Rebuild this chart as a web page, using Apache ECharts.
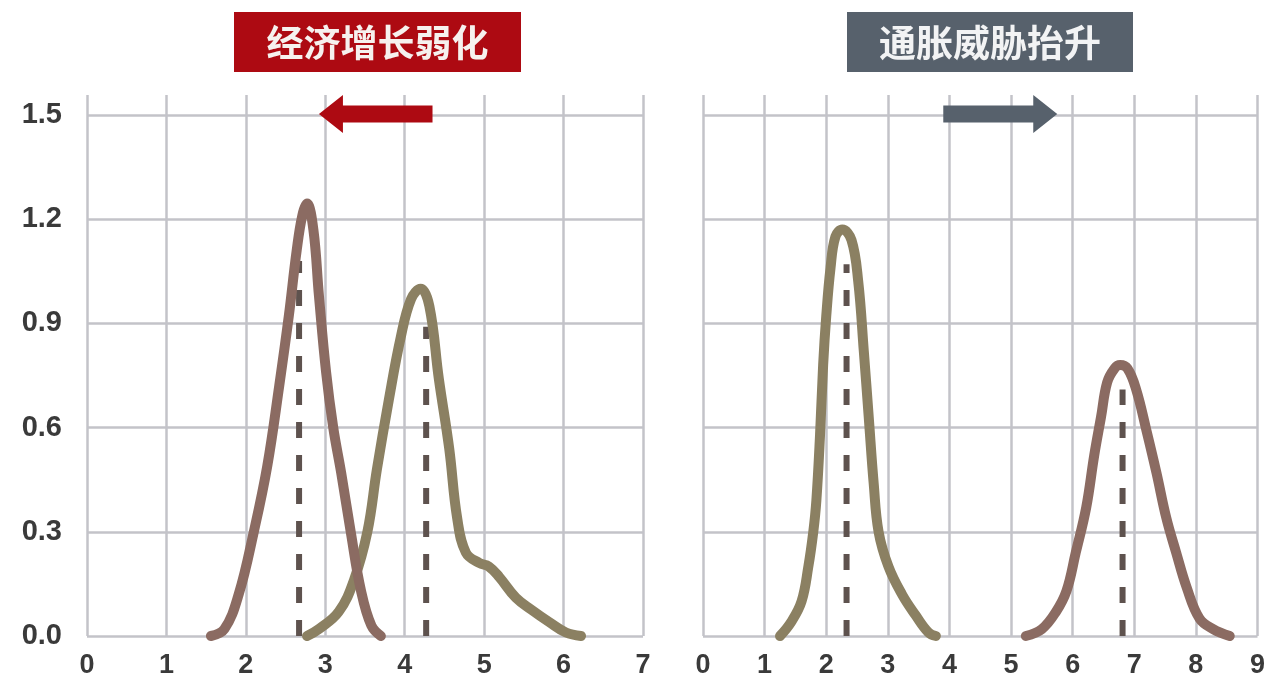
<!DOCTYPE html>
<html>
<head>
<meta charset="utf-8">
<style>
  html, body { margin: 0; padding: 0; background: #ffffff; }
  #chart { width: 1268px; height: 682px; }
</style>
<script src="https://cdn.jsdelivr.net/npm/echarts@6/dist/echarts.min.js"></script>
</head>
<body>
<div id="chart"></div>
<script>
// Panel headings
const leftTitle = '经济增长弱化';
const rightTitle = '通胀威胁抬升';

// Axis ranges and ticks
const leftXMax = 7;
const rightXMax = 9;
const yMax = 1.5;
const yStep = 0.3;

// Left panel: current distribution (brown) and earlier distribution (olive)
const leftBrown = [
  [1.56, 0.0], [1.73, 0.02], [1.91, 0.12], [2.10, 0.30], [2.27, 0.49],
  [2.42, 0.72], [2.54, 0.92], [2.64, 1.11], [2.71, 1.21], [2.77, 1.245],
  [2.85, 1.17], [2.92, 0.98], [3.01, 0.76], [3.10, 0.60], [3.20, 0.47],
  [3.32, 0.30], [3.45, 0.13], [3.58, 0.03], [3.70, 0.0]
];
const leftOlive = [
  [2.77, 0.0], [2.92, 0.02], [3.17, 0.07], [3.36, 0.16], [3.53, 0.30],
  [3.65, 0.48], [3.80, 0.68], [3.95, 0.86], [4.08, 0.97], [4.20, 1.0],
  [4.31, 0.95], [4.43, 0.74], [4.56, 0.54], [4.66, 0.34], [4.77, 0.24],
  [4.94, 0.21], [5.06, 0.20], [5.19, 0.17], [5.40, 0.11], [5.60, 0.075],
  [5.82, 0.04], [6.03, 0.01], [6.22, 0.0]
];

// Right panel: olive (lower) and brown (higher) distributions
const rightOlive = [
  [1.25, 0.0], [1.43, 0.04], [1.60, 0.10], [1.71, 0.20], [1.79, 0.30],
  [1.84, 0.39], [1.90, 0.58], [1.95, 0.78], [2.00, 0.92], [2.07, 1.06],
  [2.15, 1.15], [2.26, 1.17], [2.41, 1.14], [2.52, 1.02], [2.61, 0.82],
  [2.69, 0.63], [2.77, 0.44], [2.85, 0.30], [3.01, 0.20], [3.23, 0.12],
  [3.45, 0.06], [3.66, 0.01], [3.78, 0.0]
];
const rightBrown = [
  [5.24, 0.0], [5.50, 0.02], [5.73, 0.07], [5.90, 0.13], [6.05, 0.24],
  [6.22, 0.37], [6.35, 0.52], [6.46, 0.63], [6.56, 0.73], [6.68, 0.77],
  [6.77, 0.78], [6.89, 0.77], [7.03, 0.71], [7.20, 0.59], [7.36, 0.47],
  [7.52, 0.34], [7.68, 0.24], [7.85, 0.14], [8.06, 0.05], [8.28, 0.02],
  [8.55, 0.0]
];

// Dashed reference lines: [x, top]
const leftBrownRef = [2.67, 1.08];
const leftOliveRef = [4.27, 0.89];
const rightOliveRef = [2.33, 1.07];
const rightBrownRef = [6.81, 0.71];

// Direction arrows: [fromX, toX, y]
const leftArrow = [4.35, 2.92, 1.5];
const rightArrow = [3.9, 5.75, 1.5];

const BROWN = '#8b6b62';
const OLIVE = '#8b8062';
const DASH = '#5e524e';
const GRIDLINE = '#c3c3c9';
const RED = '#ad0a12';
const SLATE = '#57616c';
const LABEL = '#3a3a3a';

const chart = echarts.init(document.getElementById('chart'), null, { renderer: 'canvas' });

function bottomX(gridIndex, max) {
  return {
    type: 'value', gridIndex, min: 0, max, interval: 1,
    position: 'bottom',
    axisLine: { show: false },
    axisTick: { show: false },
    axisLabel: {
      margin: 16, color: LABEL,
      fontFamily: 'Liberation Sans', fontWeight: 'bold', fontSize: 27
    },
    splitLine: { show: true, lineStyle: { color: GRIDLINE, width: 2.5 } }
  };
}
function topX(gridIndex, max) {
  return {
    type: 'value', gridIndex, min: 0, max, interval: 1,
    position: 'top',
    axisLine: { show: false },
    axisTick: { show: true, length: 20, lineStyle: { color: GRIDLINE, width: 2.5 } },
    axisLabel: { show: false },
    splitLine: { show: false }
  };
}
function yAxisFor(gridIndex, showLabel) {
  return {
    type: 'value', gridIndex, min: 0, max: yMax, interval: yStep,
    axisLine: { show: false },
    axisTick: { show: false },
    axisLabel: {
      show: showLabel, margin: 25, color: LABEL,
      fontFamily: 'Liberation Sans', fontWeight: 'bold', fontSize: 29,
      formatter: v => v.toFixed(1)
    },
    splitLine: { show: true, lineStyle: { color: GRIDLINE, width: 2.5 } }
  };
}

function curve(data, color, axisIndex) {
  return {
    type: 'line', data, xAxisIndex: axisIndex, yAxisIndex: axisIndex,
    smooth: 0.4, symbol: 'none', clip: false,
    lineStyle: { color, width: 10, cap: 'round', join: 'round' },
    z: 4
  };
}
function refLine(ref, axisIndex) {
  return {
    type: 'line', data: [[ref[0], 0], [ref[0], ref[1]]],
    xAxisIndex: axisIndex, yAxisIndex: axisIndex, symbol: 'none',
    lineStyle: { color: DASH, width: 6, type: [16, 17] },
    z: 3
  };
}
function arrow(spec, color, axisIndex) {
  return {
    type: 'custom', xAxisIndex: axisIndex, yAxisIndex: axisIndex, clip: false, z: 5,
    data: [spec],
    renderItem: (params, api) => {
      const from = api.coord([api.value(0), api.value(2)]);
      const to = api.coord([api.value(1), api.value(2)]);
      const dir = to[0] > from[0] ? 1 : -1;
      const shaft = 8.5, head = 19, headLen = 24;
      const cy = from[1] - 1;
      const baseX = to[0] - dir * headLen;
      return {
        type: 'polygon',
        shape: {
          points: [
            [from[0], cy - shaft], [baseX, cy - shaft], [baseX, cy - head],
            [to[0], cy], [baseX, cy + head], [baseX, cy + shaft], [from[0], cy + shaft]
          ]
        },
        style: { fill: color }
      };
    }
  };
}

const option = {
  backgroundColor: '#ffffff',
  animation: false,
  grid: [
    { left: 87, right: 1268 - 643, top: 115, bottom: 682 - 636 },
    { left: 703, right: 1268 - 1259, top: 115, bottom: 682 - 636 }
  ],
  xAxis: [
    bottomX(0, leftXMax),
    bottomX(1, rightXMax),
    topX(0, leftXMax),
    topX(1, rightXMax)
  ],
  yAxis: [yAxisFor(0, true), yAxisFor(1, false)],
  graphic: [
    {
      type: 'group', left: 234, top: 12,
      children: [
        { type: 'rect', shape: { x: 0, y: 0, width: 287, height: 60 }, style: { fill: RED } },
        {
          type: 'text', x: 143.5, y: 31,
          style: {
            text: leftTitle, fill: '#f6f1ee', align: 'center', verticalAlign: 'middle',
            font: 'bold 37px "Noto Sans CJK SC"'
          }
        }
      ]
    },
    {
      type: 'group', left: 847, top: 12,
      children: [
        { type: 'rect', shape: { x: 0, y: 0, width: 286, height: 60 }, style: { fill: SLATE } },
        {
          type: 'text', x: 143, y: 31,
          style: {
            text: rightTitle, fill: '#f2f3f4', align: 'center', verticalAlign: 'middle',
            font: 'bold 37px "Noto Sans CJK SC"'
          }
        }
      ]
    }
  ],
  series: [
    refLine(leftBrownRef, 0),
    refLine(leftOliveRef, 0),
    refLine(rightOliveRef, 1),
    refLine(rightBrownRef, 1),
    curve(leftOlive, OLIVE, 0),
    curve(leftBrown, BROWN, 0),
    curve(rightOlive, OLIVE, 1),
    curve(rightBrown, BROWN, 1),
    arrow(leftArrow, RED, 0),
    arrow(rightArrow, SLATE, 1)
  ]
};

chart.setOption(option);
</script>
</body>
</html>
